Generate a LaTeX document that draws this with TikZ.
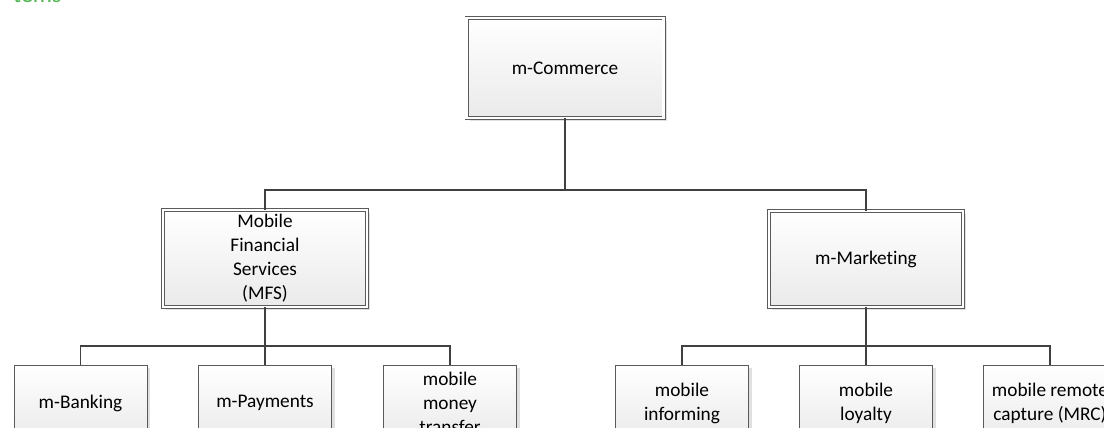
\documentclass[tikz,border=0pt]{standalone}
\usepackage{fontspec}
\setmainfont{Carlito}[Ligatures=CommonOff]
\definecolor{boxline}{RGB}{90,90,90}
\definecolor{connline}{RGB}{64,64,64}
\definecolor{boxfill}{RGB}{234,234,234}
\definecolor{headgreen}{RGB}{80,180,80}
\usetikzlibrary{shadows}
\tikzset{
  conn/.style={connline,line width=1.5pt},
  unitbox/.style={draw=boxline,line width=0.9pt,top color=white,bottom color=boxfill,
    align=center,inner sep=2pt,
    drop shadow={shadow xshift=3pt,shadow yshift=-3pt,fill=black!12,opacity=1}},
  mainbox/.style={unitbox,double=white,double distance=2.2pt},
  leafbox/.style={unitbox,minimum width=133pt,minimum height=76pt},
  tlab/.style={font=\fontsize{19.3}{24}\selectfont},
}
\begin{document}
\begin{tikzpicture}[x=1pt,y=-1pt,tlab]
  \clip (0,0) rectangle (1104,428);
  \def\Ly{403}
  % cut heading text
  \node[headgreen,anchor=base west,inner sep=0pt,font=\fontsize{24}{28}\selectfont] (head) at (13,3) {tems};
  % upper levels
  \node[mainbox,minimum width=197pt,minimum height=100pt] (com) at (565,68) {m-Commerce};
  \node[mainbox,minimum width=204pt,minimum height=97pt] (mfs) at (265,258.5) {Mobile\\Financial\\Services\\(MFS)};
  \node[mainbox,minimum width=194pt,minimum height=96pt] (mkt) at (866,259) {m-Marketing};
  % lowest level
  \node[leafbox] (bank) at (80.5,\Ly) {m-Banking};
  \node[leafbox] (pay)  at (265,\Ly)  {m-Payments};
  \node[leafbox] (mmt)  at (450,\Ly)  {mobile\\money\\transfer};
  \node[leafbox] (inf)  at (682,\Ly)  {mobile\\informing};
  \node[leafbox] (loy)  at (866,\Ly)  {mobile\\loyalty};
  \node[leafbox] (mrc)  at (1050,\Ly) {mobile remote\\capture (MRC)};
  % connectors
  \coordinate (j0) at (565,190);
  \coordinate (j1) at (265,346);
  \coordinate (j2) at (866,346);
  \draw[conn] (com.south) -- (j0) -| (mfs.north);
  \draw[conn] (j0) -| (mkt.north);
  \draw[conn] (mfs.south) -- (j1) -| (bank.north);
  \draw[conn] (j1) -- (pay.north);
  \draw[conn] (j1) -| (mmt.north);
  \draw[conn] (mkt.south) -- (j2) -| (inf.north);
  \draw[conn] (j2) -- (loy.north);
  \draw[conn] (j2) -| (mrc.north);
\end{tikzpicture}
\end{document}
